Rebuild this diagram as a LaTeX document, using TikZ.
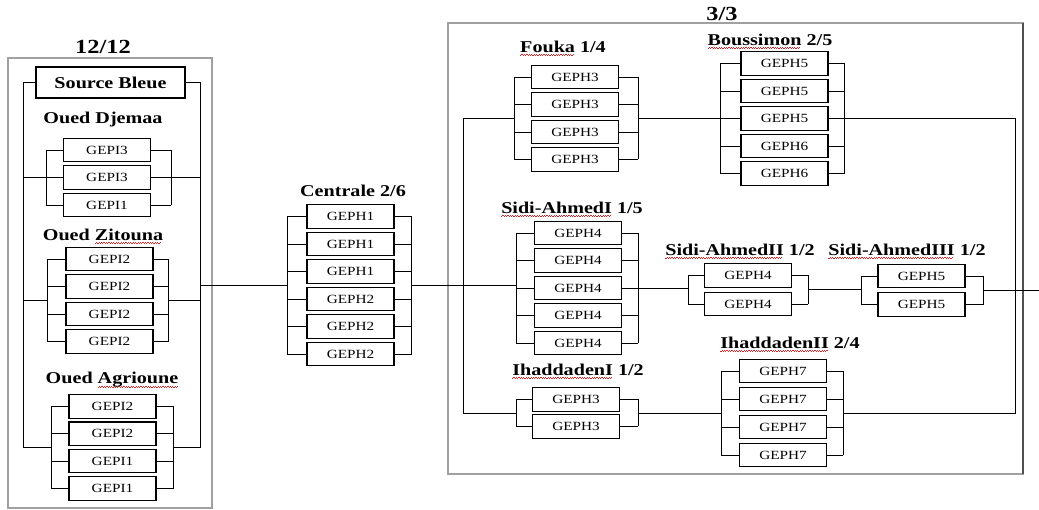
\documentclass[tikz,border=0pt]{standalone}
\usepackage{fontspec}
\setmainfont{Liberation Serif}
\usepackage{graphicx}
\usepackage{xcolor}
\usepackage{tikz}
\usetikzlibrary{calc}
\definecolor{frameGray}{HTML}{A0A0A0}
\definecolor{frameDark}{HTML}{505050}
\definecolor{spellRed}{HTML}{E02020}

\newsavebox\spellbox
\newcommand\misspelt[1]{\sbox\spellbox{#1}%
  \rlap{\hbox to\wd\spellbox{\color{spellRed}%
    \leaders\hbox{\rule[-3.4pt]{1pt}{0.6pt}\rule[-2.6pt]{1pt}{0.6pt}}\hfil}}%
  \usebox\spellbox}
\newcommand\wide[1]{\scalebox{1.22}[1]{#1}}

\tikzset{
  unit/.style={draw, line width=1.1pt, minimum width=87pt, minimum height=23.5pt,
    inner sep=0pt, font=\fontsize{12.5}{13}\selectfont},
  plant/.style={inner sep=0pt, font=\fontsize{16.5}{17}\selectfont\bfseries},
  share/.style={inner sep=0pt, font=\fontsize{20}{20}\selectfont\bfseries},
  wire/.style={line width=0.9pt},
  frame/.style={draw=frameGray, line width=1.2pt},
}

% bank of parallel units: name, centre x, first centre y, pitch, left stub, right stub, labels
\newcommand\bank[7]{%
  \foreach \lbl [count=\i] in {#7}{
    \node[unit] (#1\i) at (#2, #3+\i*#4-#4) {\wide{\lbl}};
    \draw[wire] (#1\i.west) -- ++(-#5,0) coordinate (#1l\i);
    \draw[wire] (#1\i.east) -- ++(#6,0) coordinate (#1r\i);
    \xdef\nb{\i}
  }
  \draw[wire] (#1l1) -- (#1l\nb);
  \draw[wire] (#1r1) -- (#1r\nb);
  \coordinate (#1in) at ($(#1l1)!.5!(#1l\nb)$);
  \coordinate (#1out) at ($(#1r1)!.5!(#1r\nb)$);
}

\begin{document}
\begin{tikzpicture}[x=1pt, y=-1pt]
  \useasboundingbox (0,0) rectangle (1039,510);
  \draw[frame] (8,58) rectangle (212,508);
  \draw[frame] (448,23) rectangle (1023,474);
  \draw[frame, draw=frameDark] (1023,23) -- (1023,474);
  \node[share] (lhead) at (103,47) {\wide{12/12}};
  \node[share] (rhead) at (722,14) {\wide{3/3}};

  % sources
  \node[unit, minimum width=149pt, minimum height=31pt,
    font=\fontsize{16.5}{17}\selectfont\bfseries] (src) at (110.5,82.5) {\wide{Source Bleue}};
  \draw[wire] (src.west) -- ++(-12,0) coordinate (busL);
  \draw[wire] (src.east) -- ++(15,0) coordinate (busR);

  \node[plant] (djT) at (103,120) {\wide{Oued Djemaa}};
  \bank{dj}{107}{150}{27.5}{17}{20}{GEPI3,GEPI3,GEPI1}
  \node[plant] (ztT) at (103,236) {\wide{Oued \misspelt{Zitouna}}};
  \bank{zt}{109.5}{259}{27.5}{18}{15}{GEPI2,GEPI2,GEPI2,GEPI2}
  \node[plant] (agT) at (112,380) {\wide{Oued \misspelt{Agrioune}}};
  \bank{ag}{112.5}{406.5}{27.3}{17}{17}{GEPI2,GEPI2,GEPI1,GEPI1}

  \draw[wire] (busL) |- (agin);
  \draw[wire] (busR) |- (agout);
  \draw[wire] (djin) -- (djin -| busL);
  \draw[wire] (djout) -- (djout -| busR);
  \draw[wire] (ztin) -- (ztin -| busL);
  \draw[wire] (ztout) -- (ztout -| busR);

  % centrale
  \node[plant] (ceT) at (353,191) {\wide{Centrale 2/6}};
  \bank{ce}{350.5}{216.5}{27.5}{19}{17}{GEPH1,GEPH1,GEPH1,GEPH2,GEPH2,GEPH2}
  \draw[wire] (cein -| busR) -- (cein);

  % stations
  \node[plant] (fkT) at (563,48) {\wide{\misspelt{Fouka} 1/4}};
  \bank{fk}{575}{77}{27.5}{17}{19}{GEPH3,GEPH3,GEPH3,GEPH3}
  \node[plant] (bsT) at (770,41) {\wide{\misspelt{Boussimon} 2/5}};
  \bank{bs}{784.5}{63.5}{27.5}{20}{16}{GEPH5,GEPH5,GEPH5,GEPH6,GEPH6}
  \node[plant] (sdAT) at (572,209) {\wide{\misspelt{Sidi-AhmedI} 1/5}};
  \bank{sdA}{578}{233}{27.5}{18}{16}{GEPH4,GEPH4,GEPH4,GEPH4,GEPH4}
  \node[plant] (sdBT) at (740,251) {\wide{\misspelt{Sidi-AhmedII} 1/2}};
  \bank{sdB}{748}{275.5}{28.5}{16}{16}{GEPH4,GEPH4}
  \node[plant] (sdCT) at (907,251) {\wide{\misspelt{Sidi-AhmedIII} 1/2}};
  \bank{sdC}{921.5}{276}{28.5}{16}{18}{GEPH5,GEPH5}
  \node[plant] (ihAT) at (578,371) {\wide{\misspelt{IhaddadenI} 1/2}};
  \bank{ihA}{576}{399.5}{27}{16}{18}{GEPH3,GEPH3}
  \node[plant] (ihBT) at (790,344) {\wide{\misspelt{IhaddadenII} 2/4}};
  \bank{ihB}{783}{371}{28}{18}{16}{GEPH7,GEPH7,GEPH7,GEPH7}

  \coordinate (loopL) at (463,0);
  \coordinate (loopR) at (1015,0);
  \coordinate (feed) at (1039,0);
  \draw[wire] (fkin) -- (fkin -| loopL) |- (ihAin);
  \draw[wire] (fkout) -- (fkout -| bsin);
  \draw[wire] (bsout) -- (bsout -| loopR) |- (ihBout);
  \draw[wire] (ihAout) -- (ihAout -| ihBin);
  \draw[wire] (ceout) -- (ceout -| sdAin);
  \draw[wire] (sdAout) -- (sdAout -| sdBin);
  \draw[wire] (sdBout) -- (sdBout -| sdCin);
  \draw[wire] (sdCout) -- (sdCout -| feed);
\end{tikzpicture}
\end{document}
